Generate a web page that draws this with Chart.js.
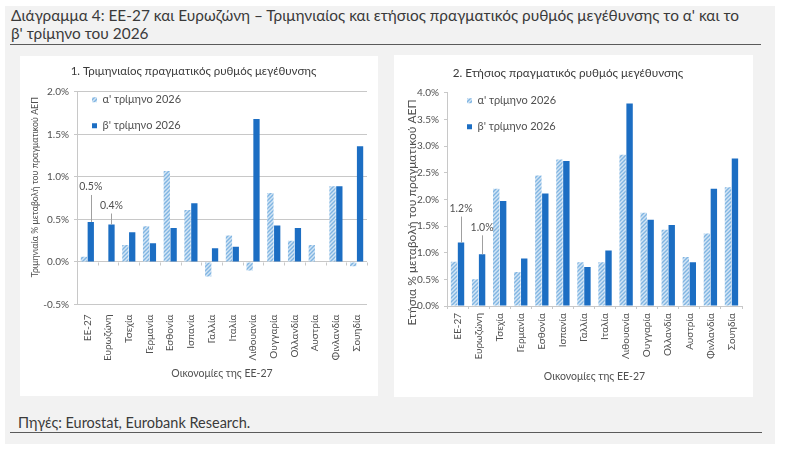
<!DOCTYPE html>
<html>
<head>
<meta charset="utf-8">
<script src="https://cdn.jsdelivr.net/npm/chart.js@4.4.0/dist/chart.umd.min.js"></script>
<style>
html, body { margin: 0; padding: 0; background: #fff; }
body { width: 799px; height: 455px; position: relative; overflow: hidden; font-family: Lato, 'Noto Sans', sans-serif; color: #404040; }
#frame { position: absolute; left: 5px; top: 6px; width: 770px; height: 438px; background: #f2f2f2; }
#title { position: absolute; left: 11px; top: 7px; width: 765px; font-size: 15.4px; line-height: 17.5px; color: #3a3a3a; }
#rule { position: absolute; left: 10px; top: 44px; width: 751px; border-top: 1.5px solid #5a5a5a; }
.box { position: absolute; background: #fff; }
#boxA { left: 20px; top: 56px; width: 358px; height: 340px; }
#boxB { left: 394px; top: 55px; width: 359px; height: 342px; }
#source { position: absolute; left: 18px; top: 414px; font-size: 14.5px; color: #3a3a3a; }
#rule2 { position: absolute; left: 10px; top: 432px; width: 752px; border-top: 1.5px solid #5a5a5a; }
canvas { display: block; }
</style>
</head>
<body>
<div id="frame"></div>
<div id="title">Διάγραμμα 4: ΕΕ-27 και Ευρωζώνη – Τριμηνιαίος και ετήσιος πραγματικός ρυθμός μεγέθυνσης το α' και το<br>β' τρίμηνο του 2026</div>
<div id="rule"></div>
<div class="box" id="boxA"><canvas id="qoqChart" width="358" height="340"></canvas></div>
<div class="box" id="boxB"><canvas id="yoyChart" width="359" height="342"></canvas></div>
<div id="source">Πηγές: Eurostat, Eurobank Research.</div>
<div id="rule2"></div>

<script>
const categories = ['ΕΕ-27', 'Ευρωζώνη', 'Τσεχία', 'Γερμανία', 'Εσθονία', 'Ισπανία', 'Γαλλία',
    'Ιταλία', 'Λιθουανία', 'Ουγγαρία', 'Ολλανδία', 'Αυστρία', 'Φινλανδία', 'Σουηδία'];
const seriesNames = ["α' τρίμηνο 2026", "β' τρίμηνο 2026"];

// % change q/q
const qoqQ1 = [0.06, null, 0.20, 0.42, 1.07, 0.61, -0.17, 0.31, -0.10, 0.81, 0.25, 0.20, 0.89, -0.05];
const qoqQ2 = [0.47, 0.44, 0.35, 0.22, 0.40, 0.69, 0.16, 0.18, 1.68, 0.43, 0.40, null, 0.89, 1.36];
// % change y/y
const yoyQ1 = [0.83, 0.50, 2.20, 0.64, 2.45, 2.75, 0.82, 0.82, 2.84, 1.75, 1.43, 0.92, 1.36, 2.23];
const yoyQ2 = [1.19, 0.97, 1.97, 0.89, 2.11, 2.72, 0.73, 1.04, 3.80, 1.62, 1.52, 0.82, 2.20, 2.77];

const qoqRange = [-0.5, 2.0];
const yoyRange = [0, 4.0];
const tickStep = 0.5;

const fontFamily = "Lato, 'Noto Sans', sans-serif";
const textColor = '#505050';
const axisColor = '#c8c8c8';
const darkBlue = '#1c6ec3';

function hatch(ctx) {
    const c = document.createElement('canvas');
    c.width = 4; c.height = 4;
    const g = c.getContext('2d');
    g.fillStyle = '#d3e5f5';
    g.fillRect(0, 0, 4, 4);
    g.strokeStyle = '#80b5e2';
    g.lineWidth = 1.4;
    g.beginPath();
    g.moveTo(0, 4); g.lineTo(4, 0);
    g.moveTo(-1, 1); g.lineTo(1, -1);
    g.moveTo(3, 5); g.lineTo(5, 3);
    g.stroke();
    return ctx.createPattern(c, 'repeat');
}

// value labels with leader lines, zero line ticks, legend inside the plot, y axis title
const extras = {
    id: 'extras',
    afterLayout(chart, args, opts) {
        const lg = chart.legend;
        const ca = chart.chartArea;
        const pad = lg.options.labels.padding;
        const w = lg.width, h = lg.height;
        lg.left = ca.left + opts.legendX - pad;
        lg.right = lg.left + w;
        lg.top = ca.top + opts.legendY - 5.5 - pad;
        lg.bottom = lg.top + h;
    },
    afterDatasetsDraw(chart, args, opts) {
        const ctx = chart.ctx;
        const meta = chart.getDatasetMeta(1);
        const values = chart.data.datasets[1].data;
        ctx.save();
        ctx.font = '10.5px ' + fontFamily;
        ctx.fillStyle = textColor;
        ctx.strokeStyle = '#a0a0a0';
        ctx.lineWidth = 1;
        ctx.textAlign = 'center';
        ctx.textBaseline = 'middle';
        opts.labels.forEach(function (lift, i) {
            const bar = meta.data[i];
            const x = Math.round(bar.x) + 0.5;
            ctx.fillText(values[i].toFixed(1) + '%', bar.x, bar.y - lift);
            ctx.beginPath();
            ctx.moveTo(x, bar.y - lift + 8);
            ctx.lineTo(x, bar.y);
            ctx.stroke();
        });
        if (opts.zeroTicks) {
            const xs = chart.scales.x;
            const y0 = Math.round(chart.scales.y.getPixelForValue(0)) + 0.5;
            const step = (xs.right - xs.left) / categories.length;
            ctx.strokeStyle = axisColor;
            ctx.beginPath();
            for (let i = 0; i <= categories.length; i++) {
                const x = Math.round(xs.left + i * step) + 0.5;
                ctx.moveTo(x, y0);
                ctx.lineTo(x, y0 + 3);
            }
            ctx.stroke();
        }
        ctx.restore();
    },
    afterDraw(chart, args, opts) {
        const ctx = chart.ctx;
        const ca = chart.chartArea;
        ctx.save();
        ctx.translate(opts.yTitleX, (ca.top + ca.bottom) / 2 + opts.yTitleShift);
        ctx.rotate(-Math.PI / 2);
        ctx.font = opts.yTitleSize + 'px ' + fontFamily;
        ctx.fillStyle = textColor;
        ctx.textAlign = 'center';
        ctx.textBaseline = 'middle';
        ctx.fillText(opts.yTitle, 0, 0);
        ctx.restore();
    }
};

function makeChart(id, q1, q2, range, cfg) {
    const ctx = document.getElementById(id).getContext('2d');
    return new Chart(ctx, {
        type: 'bar',
        data: {
            labels: categories,
            datasets: [
                { label: seriesNames[0], data: q1, backgroundColor: hatch(ctx), borderWidth: 0 },
                { label: seriesNames[1], data: q2, backgroundColor: darkBlue, borderWidth: 0 }
            ]
        },
        options: {
            responsive: false,
            animation: false,
            events: [],
            categoryPercentage: 0.66,
            barPercentage: 0.92,
            layout: { padding: { left: cfg.padLeft, right: cfg.padRight, top: 0, bottom: cfg.padBottom } },
            plugins: {
                title: {
                    display: true,
                    text: cfg.title,
                    color: '#3a3a3a',
                    font: { family: fontFamily, size: cfg.titleSize, weight: 'normal' },
                    padding: { top: cfg.titleTop, bottom: cfg.titleBottom }
                },
                legend: {
                    position: 'chartArea',
                    align: 'start',
                    labels: {
                        boxWidth: 5,
                        boxHeight: 5,
                        padding: 15,
                        color: textColor,
                        font: { family: fontFamily, size: 11 }
                    }
                },
                tooltip: { enabled: false },
                extras: {
                    labels: cfg.labelLift,
                    zeroTicks: cfg.zeroTicks,
                    legendX: cfg.legendX,
                    legendY: 8,
                    yTitle: cfg.yTitle,
                    yTitleSize: cfg.yTitleSize,
                    yTitleX: cfg.yTitleX,
                    yTitleShift: cfg.yTitleShift
                }
            },
            scales: {
                x: {
                    grid: {
                        display: !cfg.zeroTicks,
                        drawOnChartArea: false,
                        drawTicks: true,
                        tickLength: 3,
                        color: axisColor,
                        offset: true
                    },
                    border: { display: !cfg.zeroTicks, color: axisColor },
                    ticks: {
                        minRotation: 90,
                        maxRotation: 90,
                        autoSkip: false,
                        padding: cfg.zeroTicks ? 7 : 4,
                        color: textColor,
                        font: { family: fontFamily, size: 10 }
                    },
                    title: {
                        display: true,
                        text: 'Οικονομίες της ΕΕ-27',
                        color: textColor,
                        padding: 0,
                        font: { family: fontFamily, size: 10.5 }
                    },
                    afterFit: function (scale) { scale.height = cfg.xHeight; }
                },
                y: {
                    min: range[0],
                    max: range[1],
                    grid: {
                        drawOnChartArea: cfg.zeroTicks,
                        drawTicks: true,
                        tickLength: 3,
                        color: function (c) {
                            if (c.type === 'tick' || c.tick === undefined) return axisColor;
                            return c.tick.value === 0 ? axisColor : 'rgba(0,0,0,0)';
                        }
                    },
                    border: { display: true, color: axisColor },
                    ticks: {
                        stepSize: tickStep,
                        padding: 5,
                        color: textColor,
                        font: { family: fontFamily, size: 10 },
                        callback: function (v) { return v.toFixed(1) + '%'; }
                    },
                    afterFit: function (scale) { scale.width = cfg.yWidth; }
                }
            }
        },
        plugins: [extras]
    });
}

document.addEventListener('DOMContentLoaded', function () {
    makeChart('qoqChart', qoqQ1, qoqQ2, qoqRange, {
        title: '1. Τριμηνιαίος πραγματικός ρυθμός μεγέθυνσης',
        titleSize: 11.5,
        yTitle: 'Τριμηνιαία % μεταβολή του πραγματικού ΑΕΠ',
        yTitleSize: 8.8,
        yTitleX: 15,
        yTitleShift: -11,
        padLeft: 0, padRight: 11, padBottom: 16,
        titleTop: 8, titleBottom: 14,
        xHeight: 75.5, yWidth: 57,
        legendX: 15,
        labelLift: [35, 19],
        zeroTicks: true
    });
    makeChart('yoyChart', yoyQ1, yoyQ2, yoyRange, {
        title: '2. Ετήσιος πραγματικός ρυθμός μεγέθυνσης',
        titleSize: 11.7,
        yTitle: 'Ετήσια % μεταβολή του πραγματικού ΑΕΠ',
        yTitleSize: 12,
        yTitleX: 18,
        yTitleShift: 13,
        padLeft: 0, padRight: 11, padBottom: 14,
        titleTop: 11, titleBottom: 12.8,
        xHeight: 77, yWidth: 53,
        legendX: 20,
        labelLift: [34, 27],
        zeroTicks: false
    });
});
</script>
</body>
</html>
